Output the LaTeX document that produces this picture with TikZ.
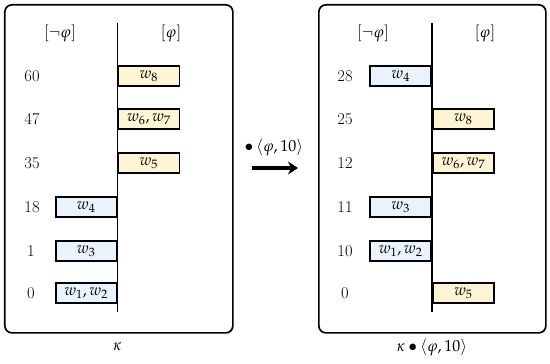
\documentclass[tikz,border=0pt]{standalone}
\usepackage{mathpazo}
\usetikzlibrary{arrows.meta}
\definecolor{ycol}{RGB}{255,245,214}
\definecolor{bcol}{RGB}{232,243,252}
\tikzset{
  panel/.style={draw, line width=1.7pt, rounded corners=7pt},
  axis/.style={line width=1.7pt},
  wbox/.style={draw, line width=1.7pt, minimum width=61pt, minimum height=20pt, inner sep=0pt, font=\fontsize{16}{18}\selectfont},
  ybox/.style={wbox, fill=ycol},
  bbox/.style={wbox, fill=bcol},
  lab/.style={font=\fontsize{16}{18}\selectfont, inner sep=0pt},
  num/.style={font=\fontsize{16.5}{18}\selectfont, inner sep=0pt},
  bigarrow/.style={line width=3.2pt, -{Stealth[length=10pt,width=13pt]}}
}
\begin{document}
\begin{tikzpicture}[x=1pt,y=-1pt]
\useasboundingbox (0,0) rectangle (550,364);
% left panel
\node[panel, minimum width=228pt, minimum height=328pt, anchor=north west] (P1) at (4,4) {};
\coordinate (a1t) at (117.5,23);
\coordinate (a1b) at (117.5,312);
\draw[axis] (a1t) -- (a1b);
\node[lab] (h1n) at (60,33) {$[\neg\varphi]$};
\node[lab] (h1p) at (171,33) {$[\varphi]$};
\node[num] (n60) at (32,76) {60};
\node[num] (n47) at (32,119) {47};
\node[num] (n35) at (32,163) {35};
\node[num] (n18) at (32,207) {18};
\node[num] (n1) at (31,251) {1};
\node[num] (n0) at (31,293) {0};
\node[ybox, anchor=west] (L8) at (117.5,76) {$w_8$};
\node[ybox, anchor=west] (L67) at (117.5,119) {$w_6, w_7$};
\node[ybox, anchor=west] (L5) at (117.5,163) {$w_5$};
\node[bbox, anchor=east] (L4) at (117.5,207) {$w_4$};
\node[bbox, anchor=east] (L3) at (117.5,251) {$w_3$};
\node[bbox, anchor=east] (L12) at (117.5,293) {$w_1, w_2$};
\node[lab] (k1) at (117.5,347) {$\kappa$};
% arrow
\coordinate (ar1) at (252,168);
\coordinate (ar2) at (298,168);
\draw[bigarrow] (ar1) -- (ar2);
\node[lab] (op) at (274,147) {$\bullet\,\langle\varphi,10\rangle$};
% right panel
\node[panel, minimum width=227pt, minimum height=328pt, anchor=north west] (P2) at (318,4) {};
\coordinate (a2t) at (432,23);
\coordinate (a2b) at (432,312);
\draw[axis] (a2t) -- (a2b);
\node[lab] (h2n) at (373,33) {$[\neg\varphi]$};
\node[lab] (h2p) at (485,33) {$[\varphi]$};
\node[num] (m28) at (345,76) {28};
\node[num] (m25) at (345,119) {25};
\node[num] (m12) at (345,163) {12};
\node[num] (m11) at (345,207) {11};
\node[num] (m10) at (345,251) {10};
\node[num] (m0) at (345,293) {0};
\node[bbox, anchor=east] (R4) at (432,76) {$w_4$};
\node[ybox, anchor=west] (R8) at (432,119) {$w_8$};
\node[ybox, anchor=west] (R67) at (432,163) {$w_6, w_7$};
\node[bbox, anchor=east] (R3) at (432,207) {$w_3$};
\node[bbox, anchor=east] (R12) at (432,251) {$w_1, w_2$};
\node[ybox, anchor=west] (R5) at (432,293) {$w_5$};
\node[lab] (k2) at (432,347) {$\kappa\bullet\langle\varphi,10\rangle$};
\end{tikzpicture}
\end{document}
